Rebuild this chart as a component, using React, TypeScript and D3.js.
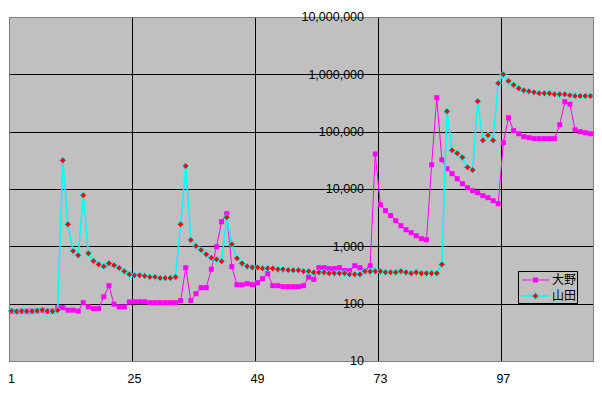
import React, { useEffect, useRef } from 'react';
import * as d3 from 'd3';

// category numbers 1..114 (labels every 24)
const categories: number[] = d3.range(1, 115);
const tickLabels: number[] = [1, 25, 49, 73, 97];
const yTicks: number[] = [10, 100, 1000, 10000, 100000, 1000000, 10000000];

const seriesNames = ['大野', '山田'];

const ono: number[] = [
    74, 73, 74, 74, 74, 75, 77, 74, 74, 85,
    85, 77, 77, 74, 104, 88, 82, 82, 132, 206,
    98, 88, 88, 107, 108, 108, 108, 104, 104, 104,
    104, 104, 104, 113, 424, 113, 149, 190, 190, 400,
    980, 2690, 3710, 442, 214, 214, 223, 214, 232, 273,
    334, 206, 206, 198, 198, 198, 198, 206, 290, 265,
    424, 424, 408, 408, 424, 376, 376, 459, 424, 376,
    459, 40800, 5320, 4190, 3430, 2800, 2290, 1950, 1730, 1530,
    1360, 1305, 26500, 392000, 32400, 22600, 18500, 15100, 12400, 10500,
    9340, 8620, 7650, 7050, 6250, 5540, 64300, 175000, 104000, 92200,
    81700, 78500, 75500, 75500, 75500, 75500, 75500, 132000, 333000, 300000,
    108000, 100000, 96000, 92000
];

const yamada: number[] = [
    74.5, 73, 74, 74, 74, 75, 77, 74, 74, 77,
    31600, 2420, 830, 697, 7760, 755, 554, 485, 448, 505,
    467, 419, 367, 325, 312, 312, 304, 292, 292, 280,
    280, 280, 292, 2420, 25200, 1290, 1010, 863, 726, 634,
    594, 548, 3210, 1085, 618, 505, 448, 430, 430, 414,
    414, 410, 397, 397, 386, 383, 383, 367, 367, 352,
    352, 352, 339, 339, 339, 339, 325, 325, 325, 367,
    364, 367, 367, 352, 352, 352, 367, 352, 339, 352,
    339, 339, 339, 339, 485, 226000, 47300, 42000, 35700, 23900,
    21500, 339000, 70800, 86500, 70800, 698000, 1000000, 765000, 652000, 571000,
    526000, 506000, 486000, 467000, 467000, 467000, 449000, 449000, 449000, 431000,
    419000, 419000, 419000, 419000
];

export default function App() {
    const chart = useRef<SVGSVGElement>(null);

    useEffect(() => {
        const left = 9, right = 593, top = 17, bottom = 361;

        const svg = d3.select(chart.current);
        svg.selectAll('*').remove();

        const x = d3.scaleBand<number>().domain(categories).range([left, right]).padding(0);
        const cx = (c: number) => (x(c) as number) + x.bandwidth() / 2;
        const y = d3.scaleLog().domain([10, 1e7]).range([bottom, top]);

        // plot area
        svg.append('rect')
            .attr('x', left + 0.5).attr('y', top + 0.5)
            .attr('width', right - left).attr('height', bottom - top)
            .attr('fill', '#c0c0c0')
            .attr('stroke', '#808080');

        // gridlines
        const g = svg.append('g').attr('stroke', '#000').attr('stroke-width', 1);
        g.selectAll('line.h')
            .data(yTicks.slice(1, -1))
            .join('line')
                .attr('x1', left + 1).attr('x2', right)
                .attr('y1', d => Math.round(y(d)) + 0.5)
                .attr('y2', d => Math.round(y(d)) + 0.5);
        g.selectAll('line.v')
            .data(tickLabels.slice(1))
            .join('line')
                .attr('x1', d => Math.round(x(d) as number) + 0.5)
                .attr('x2', d => Math.round(x(d) as number) + 0.5)
                .attr('y1', top + 1).attr('y2', bottom);

        // y labels (axis crosses mid chart)
        svg.append('g')
            .selectAll('text')
            .data(yTicks)
            .join('text')
                .attr('x', 364)
                .attr('y', d => y(d))
                .attr('dy', '0.35em')
                .attr('text-anchor', 'end')
                .attr('font-family', 'Liberation Sans, Arial, sans-serif')
                .attr('font-size', 12.5)
                .attr('fill', '#000')
                .text(d => d3.format(',')(d));

        // x labels
        svg.append('g')
            .selectAll('text')
            .data(tickLabels)
            .join('text')
                .attr('x', d => cx(d))
                .attr('y', 379)
                .attr('dy', '0.35em')
                .attr('text-anchor', 'middle')
                .attr('font-family', 'Liberation Sans, Arial, sans-serif')
                .attr('font-size', 12.5)
                .attr('fill', '#000')
                .text(d => d);

        const line = d3.line<number>()
            .x((d, i) => cx(categories[i]))
            .y(d => y(d));

        const diamond = 'M0,-3.3L3.3,0L0,3.3L-3.3,0Z';

        // 大野
        svg.append('path')
            .attr('d', line(ono))
            .attr('fill', 'none')
            .attr('stroke', '#ff00ff')
            .attr('stroke-width', 1);
        svg.append('g')
            .selectAll('rect')
            .data(ono)
            .join('rect')
                .attr('x', (d, i) => cx(categories[i]) - 2.5)
                .attr('y', d => y(d) - 2.5)
                .attr('width', 5).attr('height', 5)
                .attr('fill', '#ff00ff');

        // 山田
        svg.append('path')
            .attr('d', line(yamada))
            .attr('fill', 'none')
            .attr('stroke', '#00ffff')
            .attr('stroke-width', 1.6);
        svg.append('g')
            .selectAll('path')
            .data(yamada)
            .join('path')
                .attr('d', diamond)
                .attr('transform', (d, i) => `translate(${cx(categories[i])},${y(d)})`)
                .attr('fill', '#ff0000')
                .attr('stroke', '#00ffff')
                .attr('stroke-width', 1);

        // legend
        const lg = svg.append('g');
        lg.append('rect')
            .attr('x', 518.5).attr('y', 271.5)
            .attr('width', 59).attr('height', 32)
            .attr('fill', '#c0c0c0')
            .attr('stroke', '#000');
        seriesNames.forEach((name, i) => {
            const ly = 280 + i * 16;
            lg.append('line')
                .attr('x1', 522).attr('x2', 549)
                .attr('y1', ly).attr('y2', ly)
                .attr('stroke', i === 0 ? '#ff00ff' : '#00ffff')
                .attr('stroke-width', i === 0 ? 1 : 1.6);
            if (i === 0) {
                lg.append('rect')
                    .attr('x', 533).attr('y', ly - 2.5)
                    .attr('width', 5).attr('height', 5)
                    .attr('fill', '#ff00ff');
            } else {
                lg.append('path')
                    .attr('d', diamond)
                    .attr('transform', `translate(535.5,${ly})`)
                    .attr('fill', '#ff0000')
                    .attr('stroke', '#00ffff');
            }
            lg.append('text')
                .attr('x', 552).attr('y', ly)
                .attr('dy', '0.35em')
                .attr('font-family', 'Noto Sans CJK JP, sans-serif')
                .attr('font-size', 12)
                .attr('fill', '#000')
                .text(name);
        });
    }, []);

    return (
        <svg ref={chart} width={602} height={393}
            style={{ position: 'absolute', left: 0, top: 0, background: '#fff' }} />
    );
}
